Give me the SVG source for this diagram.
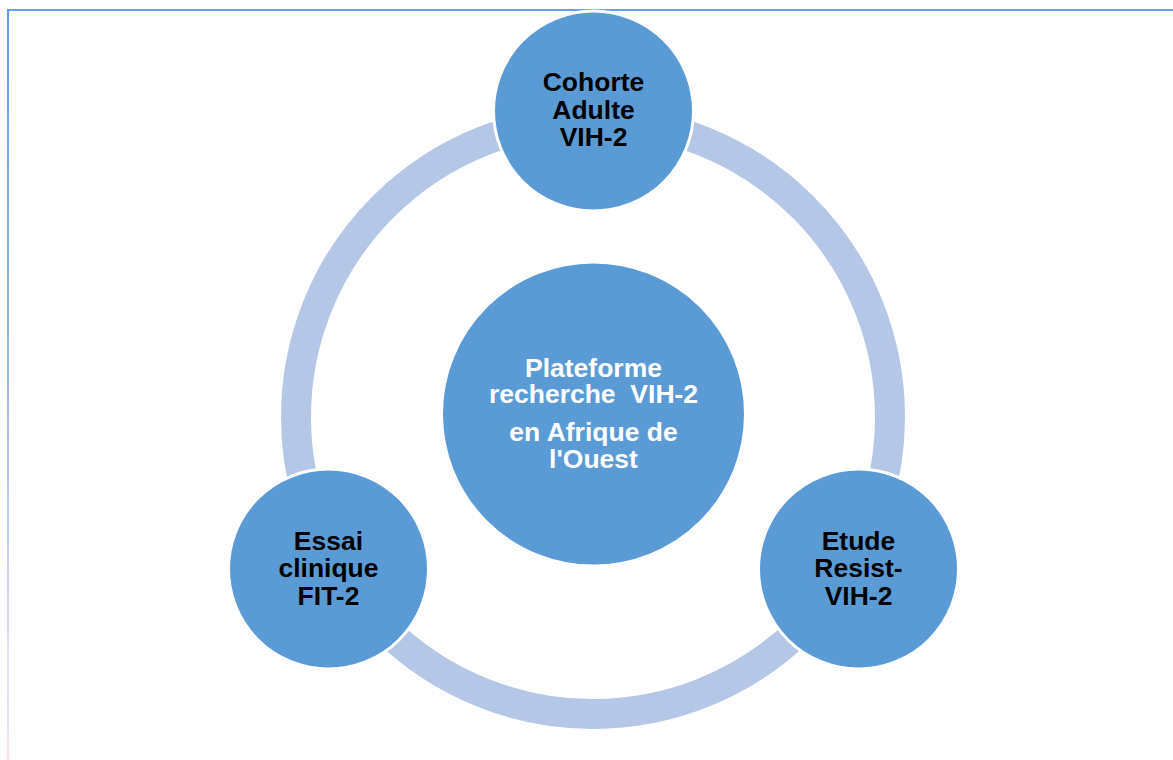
<svg xmlns="http://www.w3.org/2000/svg" width="1173" height="760" viewBox="0 0 1173 760">
<defs>
<linearGradient id="lg" x1="0" y1="0" x2="0" y2="1">
<stop offset="0" stop-color="#5E9BF2"/>
<stop offset="0.5" stop-color="#9DB8F2"/>
<stop offset="0.85" stop-color="#E0DDF5"/>
<stop offset="1" stop-color="#F5E2F2"/>
</linearGradient>
<style>
.node{fill:#5B9BD5;stroke:#FFFFFF;stroke-width:3}
.lbl{font-family:"Liberation Sans",Arial,sans-serif;font-weight:bold;font-size:26.5px;text-anchor:middle;fill:#000000}
.clbl{font-family:"Liberation Sans",Arial,sans-serif;font-weight:bold;font-size:26.5px;text-anchor:middle;fill:#FFFFFF}
</style>
</defs>
<rect width="1173" height="760" fill="#FFFFFF"/>
<line x1="7" y1="10" x2="1173" y2="10" stroke="#6A9FF0" stroke-width="2"/>
<rect x="7" y="9" width="2" height="751" fill="url(#lg)"/>
<g id="connectors">
<circle cx="593" cy="417" r="297" fill="none" stroke="#B4C7E7" stroke-width="30"/>
</g>
<g id="node-center">
<circle class="node" cx="593.5" cy="414" r="152"/>
<text class="clbl" x="593.5" y="377">Plateforme</text>
<text class="clbl" x="593.5" y="403" xml:space="preserve">recherche  VIH-2</text>
<text class="clbl" x="593.5" y="441">en Afrique de</text>
<text class="clbl" x="593.5" y="468">l'Ouest</text>
</g>
<g id="node-top">
<circle class="node" cx="593.5" cy="111" r="100"/>
<text class="lbl" x="593.5" y="91">Cohorte</text>
<text class="lbl" x="593.5" y="119">Adulte</text>
<text class="lbl" x="593.5" y="146">VIH-2</text>
</g>
<g id="node-left">
<circle class="node" cx="328.5" cy="569" r="100"/>
<text class="lbl" x="328.5" y="550">Essai</text>
<text class="lbl" x="328.5" y="577">clinique</text>
<text class="lbl" x="328.5" y="605">FIT-2</text>
</g>
<g id="node-right">
<circle class="node" cx="858.5" cy="569" r="100"/>
<text class="lbl" x="858.5" y="550">Etude</text>
<text class="lbl" x="858.5" y="577">Resist-</text>
<text class="lbl" x="858.5" y="605">VIH-2</text>
</g>
</svg>
